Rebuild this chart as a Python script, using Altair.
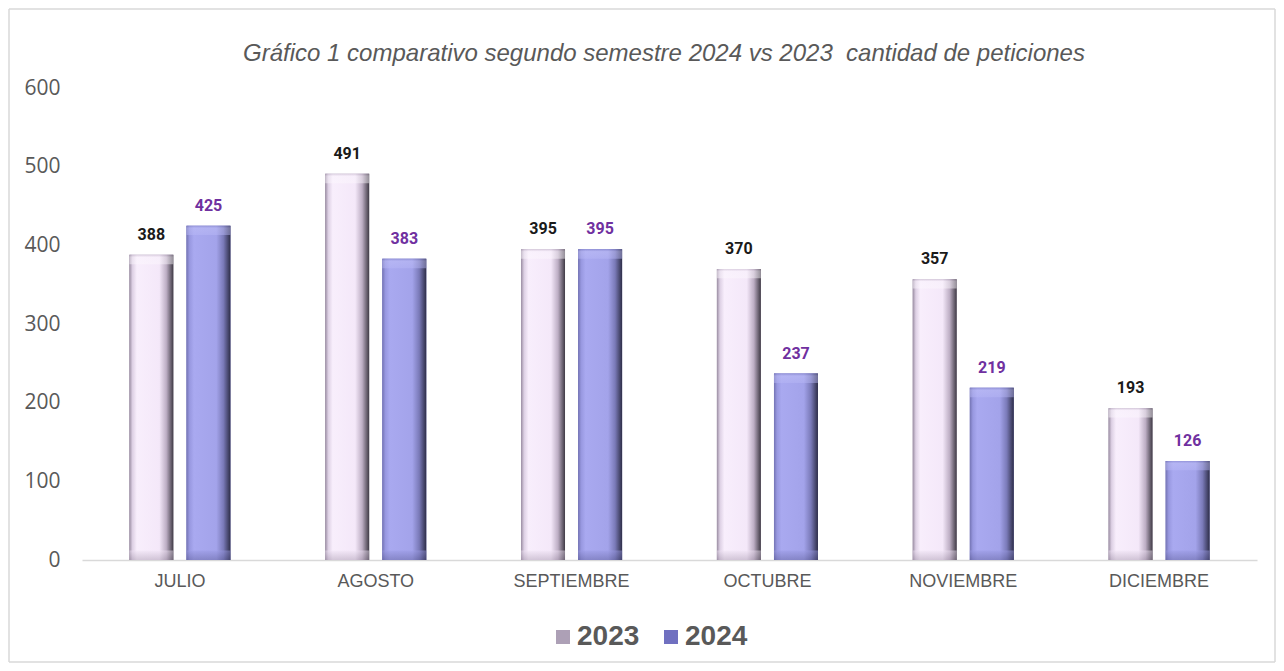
import altair as alt
import pandas as pd

months = ["JULIO", "AGOSTO", "SEPTIEMBRE", "OCTUBRE", "NOVIEMBRE", "DICIEMBRE"]
v2023 = [388, 491, 395, 370, 357, 193]
v2024 = [425, 383, 395, 237, 219, 126]
series = ["2023", "2024"]
title_text = "Gráfico 1 comparativo segundo semestre 2024 vs 2023 \u00a0cantidad de peticiones"

rows = []
for m, a, b in zip(months, v2023, v2024):
    rows.append({"mes": m, "serie": "2023", "valor": a})
    rows.append({"mes": m, "serie": "2024", "valor": b})
df = pd.DataFrame(rows)

W, H = 1175, 472

x_enc = alt.X("mes:N", sort=months, title=None,
              scale=alt.Scale(paddingInner=0, paddingOuter=0),
              axis=alt.Axis(labelAngle=0, labelFont="Liberation Sans", labelFontSize=18,
                            labelColor="#595959", labelPadding=12, ticks=False,
                            domainColor="#d9d9d9", domainWidth=1.5))
xo_enc = alt.XOffset("serie:N", scale=alt.Scale(paddingInner=0.23, paddingOuter=0.83))
y_enc = alt.Y("valor:Q", title=None,
              scale=alt.Scale(domain=[0, 600], nice=False),
              axis=alt.Axis(values=[0, 100, 200, 300, 400, 500, 600], grid=False, ticks=False,
                            domain=False, labelFont="Open Sans", labelFontSize=21,
                            labelColor="#595959", labelPadding=22))

base = alt.Chart(df).encode(x=x_enc, xOffset=xo_enc)

legend_layer = base.mark_bar().encode(
    y=y_enc,
    color=alt.Color("serie:N", title=None,
                    scale=alt.Scale(domain=series, range=["#ADA0B6", "#7070C0"]),
                    legend=alt.Legend(orient="none", direction="horizontal",
                                      legendX=467, legendY=535, padding=0,
                                      symbolType="square", symbolSize=196,
                                      symbolStrokeWidth=0, labelFont="Liberation Sans",
                                      labelFontSize=28, labelFontWeight="bold",
                                      labelColor="#595959", labelOffset=0,
                                      columnPadding=17)),
)

def hgrad(stops):
    return alt.Gradient(gradient="linear", x1=0, y1=0, x2=1, y2=0,
                        stops=[alt.GradientStop(offset=o, color=c) for o, c in stops])

def vgrad(stops):
    return alt.Gradient(gradient="linear", x1=0, y1=0, x2=0, y2=1,
                        stops=[alt.GradientStop(offset=o, color=c) for o, c in stops])

g2023 = hgrad([(0, "#9a8da2"), (0.07, "#ddd0e4"), (0.17, "#f8eefc"), (0.68, "#f4e8f9"),
               (0.84, "#bdaec4"), (1, "#3f3a45")])
g2024 = hgrad([(0, "#7474b4"), (0.07, "#9898e0"), (0.17, "#a9a9f0"), (0.68, "#a3a3ea"),
               (0.84, "#7a7ab8"), (1, "#2e2e48")])

bars23 = base.transform_filter(alt.datum.serie == "2023").mark_bar(color=g2023).encode(y=y_enc)
bars24 = base.transform_filter(alt.datum.serie == "2024").mark_bar(color=g2024).encode(y=y_enc)

cap = 12
top23 = base.transform_filter(alt.datum.serie == "2023").transform_calculate(
    lo=f"datum.valor - {cap}").mark_bar(
    color=vgrad([(0, "#b8aabf"), (0.25, "#fbf6fd"), (1, "#fdf9fe")]), opacity=0.45
).encode(y=alt.Y("valor:Q"), y2="lo:Q")
top24 = base.transform_filter(alt.datum.serie == "2024").transform_calculate(
    lo=f"datum.valor - {cap}").mark_bar(
    color=vgrad([(0, "#7a7abf"), (0.25, "#c4c4f8"), (1, "#b8b8f6")]), opacity=0.45
).encode(y=alt.Y("valor:Q"), y2="lo:Q")
bot23 = base.transform_filter(alt.datum.serie == "2023").transform_calculate(
    lo="0", hi=f"{cap}").mark_bar(
    color=vgrad([(0, "#efe3f4"), (1, "#a495ab")]), opacity=0.45
).encode(y=alt.Y("hi:Q"), y2="lo:Q")
bot24 = base.transform_filter(alt.datum.serie == "2024").transform_calculate(
    lo="0", hi=f"{cap}").mark_bar(
    color=vgrad([(0, "#9a9ae4"), (1, "#5c5c98")]), opacity=0.45
).encode(y=alt.Y("hi:Q"), y2="lo:Q")

txt_kw = dict(font="Roboto", fontSize=16, fontWeight="bold",
              baseline="alphabetic", align="center", dy=-15)
t23 = base.transform_filter(alt.datum.serie == "2023").mark_text(color="#1a1a1a", **txt_kw).encode(
    y=alt.Y("valor:Q"), text="valor:Q")
t24 = base.transform_filter(alt.datum.serie == "2024").mark_text(color="#7030A0", **txt_kw).encode(
    y=alt.Y("valor:Q"), text="valor:Q")

one = pd.DataFrame({"t": [title_text]})
title_layer = alt.Chart(one).mark_text(
    font="Liberation Sans", fontSize=24, fontStyle="italic", color="#595959",
    align="center", baseline="alphabetic").encode(
    text="t:N", x=alt.value(582), y=alt.value(-27))

fc = "#d9d9d9"
L, R, T, B = -73, 1193, -79, 574
f_top = alt.Chart(one).mark_rule(color=fc, strokeWidth=1.5).encode(
    x=alt.value(L), x2=alt.value(R), y=alt.value(T))
f_bot = alt.Chart(one).mark_rule(color=fc, strokeWidth=1.5).encode(
    x=alt.value(L), x2=alt.value(R), y=alt.value(B))
f_left = alt.Chart(one).mark_rule(color=fc, strokeWidth=1.5).encode(
    x=alt.value(L), y=alt.value(T), y2=alt.value(B))
f_right = alt.Chart(one).mark_rule(color=fc, strokeWidth=1.5).encode(
    x=alt.value(R), y=alt.value(T), y2=alt.value(B))

chart = alt.layer(legend_layer, bars23, bars24, top23, top24, bot23, bot24, t23, t24,
                  title_layer, f_top, f_bot, f_left, f_right).properties(
    width=W, height=H,
    autosize=alt.AutoSizeParams(type="none"),
    padding={"left": 74, "top": 80, "right": 19, "bottom": 103},
).configure(background="white").configure_view(stroke=None)

chart.save("out.html", embed_options={"renderer": "svg", "actions": False})
